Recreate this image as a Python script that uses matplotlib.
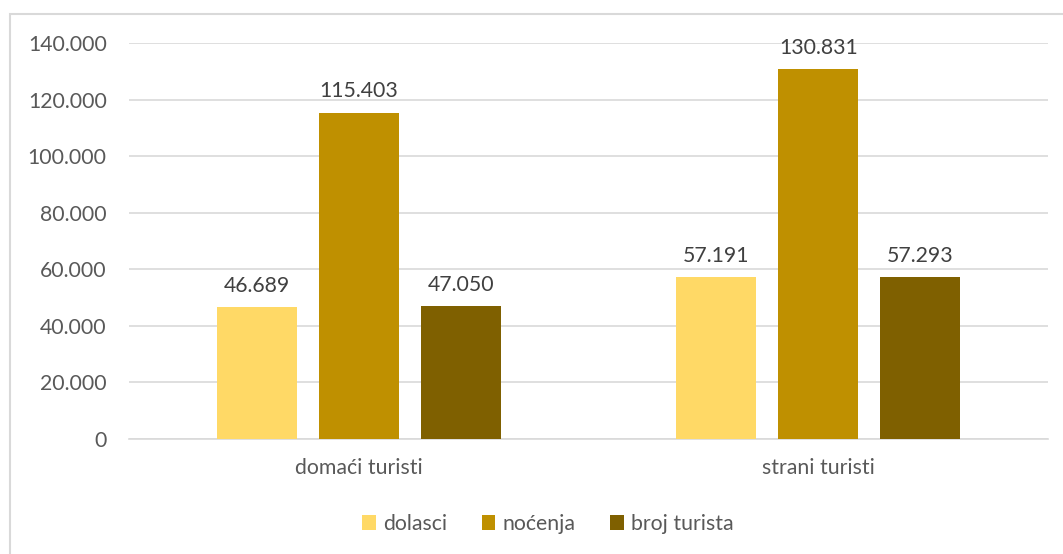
import matplotlib
matplotlib.use("Agg")
import matplotlib.pyplot as plt
import matplotlib.patches as mpatches
from matplotlib.ticker import FuncFormatter, MultipleLocator

categories = ["domaći turisti", "strani turisti"]
series_names = ["dolasci", "noćenja", "broj turista"]
dolasci = [46689, 57191]
nocenja = [115403, 130831]
broj_turista = [47050, 57293]
colors = ["#FFD966", "#BF9000", "#7F6000"]

plt.rcParams['font.family'] = ['Lato', 'DejaVu Sans']

W, H = 1063, 554
FS = 15.3
fig = plt.figure(figsize=(W / 100, H / 100), dpi=100)
ax = fig.add_axes([129 / W, 1 - 439 / H, (1048 - 129) / W, (439 - 43) / H])

def fmt(v):
    return f"{int(round(v)):,}".replace(",", ".")

offsets = [-0.222, 0.0, 0.222]
width = 0.174
xs = list(range(len(categories)))
for vals, name, col, off in zip([dolasci, nocenja, broj_turista], series_names, colors, offsets):
    bars = ax.bar([x + off for x in xs], vals, width=width, color=col, label=name, zorder=3)
    for b, v in zip(bars, vals):
        ax.annotate(fmt(v), (b.get_x() + b.get_width() / 2, v), xytext=(0, 8),
                    textcoords="offset points", ha="center", va="bottom",
                    fontsize=FS, color="#404040")

ax.set_xlim(-0.5, 1.5)
ax.set_ylim(0, 140000)
ax.yaxis.set_major_locator(MultipleLocator(20000))
ax.yaxis.set_major_formatter(FuncFormatter(lambda v, p: fmt(v)))
ax.set_xticks(xs)
ax.set_xticklabels(categories)
ax.grid(axis="y", color="#D9D9D9", linewidth=1.2, zorder=0)
ax.set_axisbelow(True)
for s in ["left", "right", "top"]:
    ax.spines[s].set_visible(False)
ax.spines["bottom"].set_color("#D9D9D9")
ax.spines["bottom"].set_linewidth(1.2)
ax.tick_params(axis="both", length=0, labelsize=FS, labelcolor="#595959")
ax.tick_params(axis="y", pad=16)
ax.tick_params(axis="x", pad=14)

leg = fig.legend(loc="center", bbox_to_anchor=(548 / W, 1 - 524 / H), ncol=3, frameon=False,
                 fontsize=FS, handlelength=0.65, handleheight=0.65, handletextpad=0.35,
                 columnspacing=1.6)
for t in leg.get_texts():
    t.set_color("#595959")

rect = mpatches.Rectangle((9.5 / W, -0.1), 2.0, 1 - 13.5 / H + 0.1, transform=fig.transFigure,
                          fill=False, edgecolor="#D9D9D9", linewidth=1.5)
fig.patches.append(rect)

fig.savefig("out.png", dpi=100)
